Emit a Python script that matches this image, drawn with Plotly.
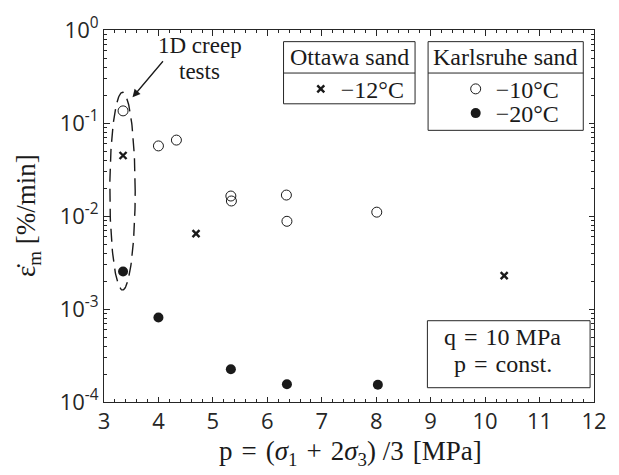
import numpy as np
import plotly.graph_objects as go

# ---- data ----
ottawa_p = [3.35, 4.69, 10.35]
ottawa_rate = [0.0447, 0.00646, 0.00228]
k10_p = [3.35, 4.0, 4.33, 5.33, 5.34, 6.35, 6.36, 8.01]
k10_rate = [0.135, 0.0567, 0.0655, 0.0164, 0.0145, 0.0168, 0.00877, 0.011]
k20_p = [3.35, 4.0, 5.33, 6.36, 8.03]
k20_rate = [0.00253, 0.00081, 0.000225, 0.000155, 0.000153]

x_ticks = list(range(3, 13))
y_tickvals = [1e-4, 1e-3, 1e-2, 1e-1, 1e0]
y_ticktext = ["10<sup>-4</sup>", "10<sup>-3</sup>", "10<sup>-2</sup>", "10<sup>-1</sup>", "10<sup>0</sup>"]

INK = "#1a1a1a"
AX = "#262626"
SERIF = "Liberation Serif"
SANS = "Open Sans"
LEG_FONT = dict(family=SERIF, size=24, color=INK)

fig = go.Figure()

fig.add_trace(go.Scatter(
    x=ottawa_p, y=ottawa_rate, mode="markers", name="\u221212\u00b0C",
    marker=dict(symbol="x-thin", size=7, line=dict(width=2.4, color=INK), color=INK),
    legend="legend"))
fig.add_trace(go.Scatter(
    x=k10_p, y=k10_rate, mode="markers", name="\u221210\u00b0C",
    marker=dict(symbol="circle-open", size=10, line=dict(width=1, color=INK), color=INK),
    legend="legend2"))
fig.add_trace(go.Scatter(
    x=k20_p, y=k20_rate, mode="markers", name="\u221220\u00b0C",
    marker=dict(symbol="circle", size=10, color=INK, line=dict(width=0)),
    legend="legend3"))

# dashed ellipse around the 1D creep tests
th = np.linspace(0, 2 * np.pi, 200)
ecx, ehw, ecy, ehh = 3.34, 0.233, -1.733, 1.063
fig.add_trace(go.Scatter(
    x=ecx + ehw * np.cos(th), y=10 ** (ecy + ehh * np.sin(th)),
    mode="lines", line=dict(color=INK, width=1.4, dash="13px,7px"),
    showlegend=False, hoverinfo="skip"))

minor_y = [m * 10.0 ** e for e in range(-4, 0) for m in range(2, 10)]

def leg(x, y):
    return dict(x=x, y=y, xanchor="left", yanchor="middle",
                bgcolor="rgba(0,0,0,0)", borderwidth=0, font=LEG_FONT)

fig.update_layout(
    width=619, height=475,
    margin=dict(l=104, r=12, t=19, b=73),
    paper_bgcolor="white", plot_bgcolor="white",
    showlegend=True,
    xaxis=dict(
        range=[3, 12], tickvals=x_ticks, ticks="inside", ticklen=5.5, tickcolor=AX,
        showline=True, linecolor=AX, linewidth=1, mirror="ticks",
        showgrid=False, zeroline=False,
        minor=dict(ticks="inside", ticklen=3, dtick=0.2, tickcolor=AX, showgrid=False),
        tickfont=dict(family=SANS, size=22, color=AX),
    ),
    yaxis=dict(
        type="log", range=[-4, 0], tickvals=y_tickvals, ticktext=y_ticktext,
        ticks="inside", ticklen=5.5, tickcolor=AX,
        showline=True, linecolor=AX, linewidth=1, mirror="ticks",
        showgrid=False, zeroline=False,
        minor=dict(ticks="inside", ticklen=3, tickvals=minor_y, tickcolor=AX, showgrid=False),
        tickfont=dict(family=SANS, size=22, color=AX),
    ),
    legend=leg(0.4016, 0.8407),
    legend2=leg(0.7177, 0.8407),
    legend3=leg(0.7177, 0.7755),
)

box_line = dict(color=AX, width=1)
shapes = [
    dict(type="rect", xref="paper", yref="paper", x0=0.3664, x1=0.6348, y0=0.8016, y1=0.9687,
         line=box_line, fillcolor="rgba(0,0,0,0)"),
    dict(type="line", xref="paper", yref="paper", x0=0.3664, x1=0.6348, y0=0.8843, y1=0.8843, line=box_line),
    dict(type="rect", xref="paper", yref="paper", x0=0.6614, x1=0.9781, y0=0.7303, y1=0.9687,
         line=box_line, fillcolor="rgba(0,0,0,0)"),
    dict(type="line", xref="paper", yref="paper", x0=0.6614, x1=0.9781, y0=0.8843, y1=0.8843, line=box_line),
    dict(type="rect", xref="paper", yref="paper", x0=0.660, x1=0.992, y0=0.0384, y1=0.2185,
         line=box_line, fillcolor="white"),
]
fig.update_layout(shapes=shapes)

sp = "\u2004"
x_title = ("p" + sp + "=" + sp + "(<i>\u03c3</i><sub>1</sub>" + sp + "+" + sp +
           "2<i>\u03c3</i><sub>3</sub>) /3" + sp + "[MPa]")
y_title = "\u03b5\u0307<sub>m</sub> [%/min]"

def ann(x, y, text, size=24, **kw):
    d = dict(xref="paper", yref="paper", x=x, y=y, text=text, showarrow=False,
             font=dict(family=SERIF, size=size, color=INK), xanchor="center", yanchor="middle")
    d.update(kw)
    return d

annotations = [
    ann(0.5006, 0.9277, "Ottawa sand"),
    ann(0.8197, 0.9277, "Karlsruhe sand"),
    ann(0.8137, 0.1749, "q" + sp + "=" + sp + "10 MPa"),
    ann(0.8137, 0.1010, "p" + sp + "=" + sp + "const."),
    ann(0.1958, 0.9582, "1D creep", size=23),
    ann(0.1958, 0.8885, "tests", size=23),
    ann(0.503, -0.1384, x_title, size=27),
    ann(-0.155, 0.5, y_title, size=27, textangle=-90),
    dict(xref="x", yref="y", x=3.524, y=-0.724, text="", showarrow=True,
         ax=31.7, ay=-37.6, arrowhead=2, arrowsize=1.2, arrowwidth=1.3, arrowcolor=INK),
]
fig.update_layout(annotations=annotations)

fig.write_html("out.html")
